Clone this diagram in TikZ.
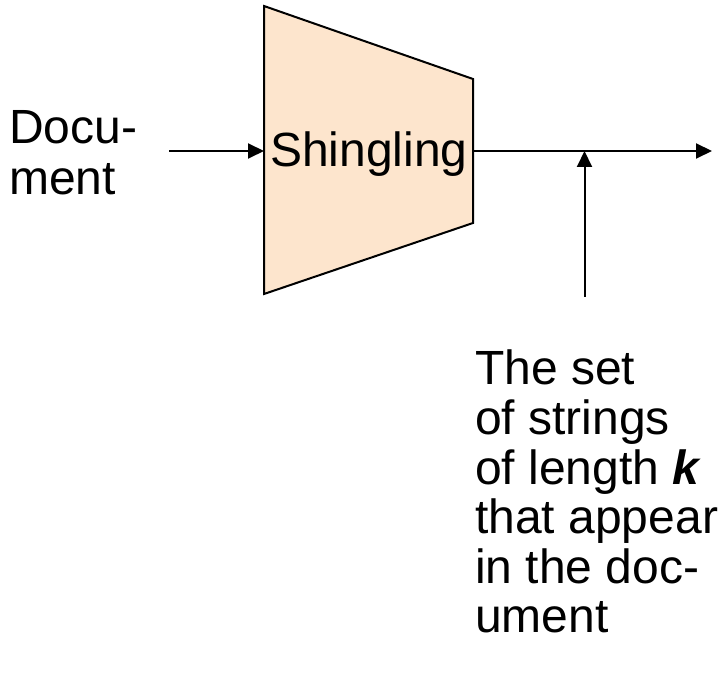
\documentclass[tikz,border=0pt]{standalone}
\usepackage{fontspec}
\setmainfont{Liberation Sans}
\usetikzlibrary{arrows.meta}
\definecolor{peach}{RGB}{253,229,205}
\tikzset{
  conn/.style={line width=2pt,-{Triangle[length=16pt,width=15pt]}},
  lbl/.style={inner sep=0pt,align=left,font=\fontsize{48}{49.6}\selectfont},
}
\begin{document}
\begin{tikzpicture}[x=1pt,y=-1pt]
\useasboundingbox (0,0) rectangle (724,676);
\coordinate (tl) at (264,6);
\coordinate (tr) at (473,79);
\coordinate (br) at (473,223);
\coordinate (bl) at (264,294);
\coordinate (inL) at (264,151);
\coordinate (inR) at (473,151);
\coordinate (src) at (169,151);
\coordinate (dst) at (712,151);
\coordinate (vbot) at (584.5,297);
\coordinate (vtop) at (584.5,151);
\draw[line width=2pt,fill=peach,line join=miter] (tl) -- (tr) -- (br) -- (bl) -- cycle;
\node[lbl,anchor=base] (shing) at (369,166.7) {Shingling};
\node[lbl,anchor=north west,font=\fontsize{48}{51}\selectfont] (doc) at (9,110) {Docu-\\ment};
\node[lbl,anchor=north west] (set) at (475,350) {The set\\of strings\\of length \textbf{\textit{k}}\\that appear\\in the doc-\\ument};
\draw[conn] (src) -- (inL);
\draw[conn] (inR) -- (dst);
\draw[conn] (vbot) -- (vtop);
\end{tikzpicture}
\end{document}
